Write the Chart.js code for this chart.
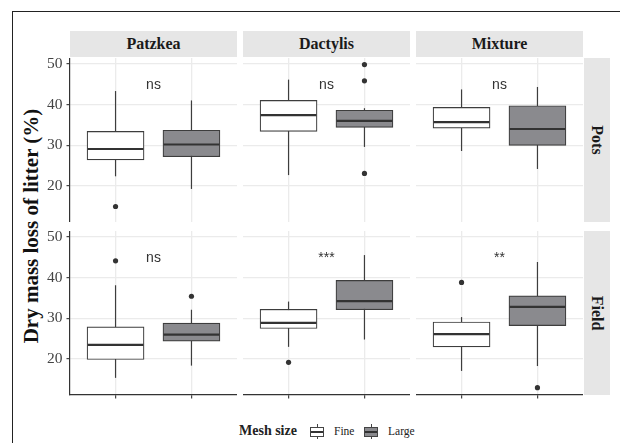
<!DOCTYPE html>
<html>
<head>
<meta charset="utf-8">
<script src="https://cdn.jsdelivr.net/npm/chart.js@4.4.1/dist/chart.umd.min.js"></script>
<style>
    html, body { margin: 0; padding: 0; background: #fff; }
    #wrap { position: relative; width: 620px; height: 443px; overflow: hidden; font-family: "Liberation Serif", "Times New Roman", serif; }
    .frame { position: absolute; left: 12px; top: 11px; width: 640px; height: 460px; border-left: 1.7px solid #222; border-top: 1.7px solid #222; }
    .strip { position: absolute; background: #e6e6e6; color: #1a1a1a; font-weight: bold; font-size: 16px; display: flex; align-items: center; justify-content: center; }
    .strip.row span { transform: rotate(90deg); white-space: nowrap; }
    canvas { position: absolute; }
    #ytitle { position: absolute; left: 31px; top: 226px; transform: translate(-50%, -50%) rotate(-90deg); font-weight: bold; font-size: 21px; color: #111; white-space: nowrap; }
    .leg { position: absolute; top: 423px; height: 16px; line-height: 16px; color: #222; white-space: nowrap; }
    .leg.title { font-weight: bold; font-size: 14px; }
    .leg.lab { font-size: 11.5px; }
    .key { position: absolute; top: 424px; width: 14px; height: 15px; }
    .key::before { content: ""; position: absolute; left: 6.5px; top: 0; width: 1px; height: 15px; background: #444; }
    .key b { position: absolute; left: 0; top: 3px; width: 12px; height: 8px; border: 1px solid #444; }
    .key b::after { content: ""; position: absolute; left: 0; right: 0; top: 3.3px; height: 1.4px; background: #333; }
</style>
</head>
<body>
<div id="wrap">
    <div class="frame"></div>
    <div id="ytitle">Dry mass loss of litter (%)</div>
</div>

<script>
// === 1. DATA ===
const species = ['Patzkea', 'Dactylis', 'Mixture'];
const sites = ['Pots', 'Field'];
const meshSizes = ['Fine', 'Large'];
const yTicks = [20, 30, 40, 50];
const xTicks = [1, 2];

// [lower whisker, Q1, median, Q3, upper whisker] per species
const potsFine   = [[22.4, 26.4, 29.1, 33.4, 43.3], [22.7, 33.4, 37.4, 41.0, 46.1], [28.6, 34.2, 35.7, 39.3, 43.7]];
const potsLarge  = [[19.3, 27.2, 30.2, 33.7, 41.0], [29.6, 34.4, 36.0, 38.6, 39.1], [24.2, 30.0, 34.0, 39.7, 44.3]];
const fieldFine  = [[15.4, 19.9, 23.5, 27.9, 38.1], [23.0, 27.5, 28.9, 32.2, 34.1], [17.1, 23.0, 26.1, 29.1, 30.3]];
const fieldLarge = [[18.4, 24.4, 26.0, 28.8, 32.1], [24.8, 32.1, 34.2, 39.3, 45.5], [18.3, 28.2, 32.8, 35.5, 43.8]];

// outliers per species
const potsFineOut   = [[15.0], [], []];
const potsLargeOut  = [[], [49.8, 45.8, 23.1], []];
const fieldFineOut  = [[44.1], [19.2], [38.8]];
const fieldLargeOut = [[35.4], [], [13.0]];

// significance labels
const potsSig  = ['ns', 'ns', 'ns'];
const fieldSig = ['ns', '***', '**'];
const sigY = 44.7;

const yMin = 11.2, yMax = 51.4;

// === 2. LAYOUT ===
const colLeft = [70, 243, 416];
const rowTop = [58, 231];
const panelW = 167, panelH = 164;
const yAxisW = 30, xAxisH = 6;
const fillColors = ['#ffffff', '#8a8a8e'];
const lineColor = '#3d3d3d';

const wrap = document.getElementById('wrap');

function addDiv(cls, css, html) {
    const d = document.createElement('div');
    d.className = cls;
    Object.assign(d.style, css);
    d.innerHTML = html;
    wrap.appendChild(d);
    return d;
}

// strips
species.forEach((name, c) => {
    addDiv('strip', { left: colLeft[c] + 'px', top: '31px', width: panelW + 'px', height: '26px' }, name);
});
sites.forEach((name, r) => {
    addDiv('strip row', { left: '584px', top: rowTop[r] + 'px', width: '26px', height: panelH + 'px' }, '<span>' + name + '</span>');
});

// legend
addDiv('leg title', { left: '239px' }, 'Mesh size');
addDiv('key', { left: '310px' }, '<b style="background:' + fillColors[0] + '"></b>');
addDiv('leg lab', { left: '334px' }, meshSizes[0]);
addDiv('key', { left: '364px' }, '<b style="background:' + fillColors[1] + '"></b>');
addDiv('leg lab', { left: '388px' }, meshSizes[1]);

// === 3. BOX PARTS PLUGIN (whiskers, medians, labels) ===
const boxParts = {
    id: 'boxParts',
    beforeDatasetsDraw(chart, args, opts) {
        const ctx = chart.ctx, xs = chart.scales.x, ys = chart.scales.y;
        ctx.save();
        ctx.strokeStyle = lineColor;
        ctx.lineWidth = 1.2;
        opts.stats.forEach((s, i) => {
            const x = xs.getPixelForValue(xTicks[i]);
            ctx.beginPath();
            ctx.moveTo(x, ys.getPixelForValue(s[0]));
            ctx.lineTo(x, ys.getPixelForValue(s[4]));
            ctx.stroke();
        });
        ctx.restore();
    },
    afterDatasetsDraw(chart, args, opts) {
        const ctx = chart.ctx, xs = chart.scales.x, ys = chart.scales.y;
        const bars = chart.getDatasetMeta(0).data;
        ctx.save();
        ctx.strokeStyle = '#333';
        ctx.lineWidth = 2.2;
        opts.stats.forEach((s, i) => {
            const bar = bars[i];
            const y = ys.getPixelForValue(s[2]);
            ctx.beginPath();
            ctx.moveTo(bar.x - bar.width / 2 + 0.6, y);
            ctx.lineTo(bar.x + bar.width / 2 - 0.6, y);
            ctx.stroke();
        });
        ctx.fillStyle = '#333';
        ctx.font = '14px "Liberation Sans", Arial, sans-serif';
        ctx.textAlign = 'center';
        ctx.textBaseline = 'middle';
        ctx.fillText(opts.sig, xs.getPixelForValue(1.5), ys.getPixelForValue(sigY));
        ctx.restore();
    }
};

// === 4. PANELS ===
function makePanel(r, c, fine, large, fineOut, largeOut, sig) {
    const isLeft = c === 0, isBottom = r === 1;
    const canvas = document.createElement('canvas');
    const w = panelW + (isLeft ? yAxisW : 0);
    const h = panelH + (isBottom ? xAxisH : 0);
    canvas.width = w; canvas.height = h;
    canvas.style.left = (colLeft[c] - (isLeft ? yAxisW : 0)) + 'px';
    canvas.style.top = rowTop[r] + 'px';
    canvas.style.width = w + 'px'; canvas.style.height = h + 'px';
    wrap.appendChild(canvas);

    const stats = [fine, large];
    const outliers = [];
    fineOut.forEach(v => outliers.push({ x: xTicks[0], y: v }));
    largeOut.forEach(v => outliers.push({ x: xTicks[1], y: v }));

    new Chart(canvas, {
        type: 'bar',
        data: {
            datasets: [{
                type: 'bar',
                data: stats.map((s, i) => ({ x: xTicks[i], y: [s[1], s[3]] })),
                backgroundColor: fillColors,
                borderColor: lineColor,
                borderWidth: 1.2,
                borderSkipped: false,
                barThickness: 57
            }, {
                type: 'scatter',
                data: outliers,
                pointRadius: 2.6,
                pointBackgroundColor: '#333',
                pointBorderWidth: 0,
                clip: false
            }]
        },
        options: {
            responsive: false,
            animation: false,
            devicePixelRatio: 1,
            layout: { padding: 0, autoPadding: false },
            plugins: {
                legend: { display: false },
                tooltip: { enabled: false },
                boxParts: { stats: stats, sig: sig }
            },
            scales: {
                x: {
                    type: 'linear', min: 0.4, max: 2.6, offset: false,
                    afterBuildTicks: s => { s.ticks = xTicks.map(v => ({ value: v })); },
                    afterFit: s => { s.height = isBottom ? xAxisH : 0; s.paddingLeft = 0; s.paddingRight = 0; },
                    ticks: { display: false },
                    grid: { offset: false, color: '#ebebeb', lineWidth: 1.3, drawTicks: isBottom, tickLength: 3.5, tickColor: '#333', tickWidth: 1.1 },
                    border: { display: isBottom, color: '#333', width: 1.2 }
                },
                y: {
                    type: 'linear', min: yMin, max: yMax,
                    afterBuildTicks: s => { s.ticks = yTicks.map(v => ({ value: v })); },
                    afterFit: s => { s.width = isLeft ? yAxisW : 0; s.paddingTop = 0; s.paddingBottom = 0; },
                    ticks: { display: isLeft, color: '#444', padding: 4, font: { family: '"Liberation Serif", serif', size: 15.5 } },
                    grid: { color: '#ebebeb', lineWidth: 1.3, drawTicks: isLeft, tickLength: 3.5, tickColor: '#333', tickWidth: 1.1 },
                    border: { display: isLeft, color: '#333', width: 1.2 }
                }
            }
        },
        plugins: [boxParts]
    });
}

for (let c = 0; c < species.length; c++) {
    makePanel(0, c, potsFine[c], potsLarge[c], potsFineOut[c], potsLargeOut[c], potsSig[c]);
    makePanel(1, c, fieldFine[c], fieldLarge[c], fieldFineOut[c], fieldLargeOut[c], fieldSig[c]);
}
</script>
</body>
</html>
